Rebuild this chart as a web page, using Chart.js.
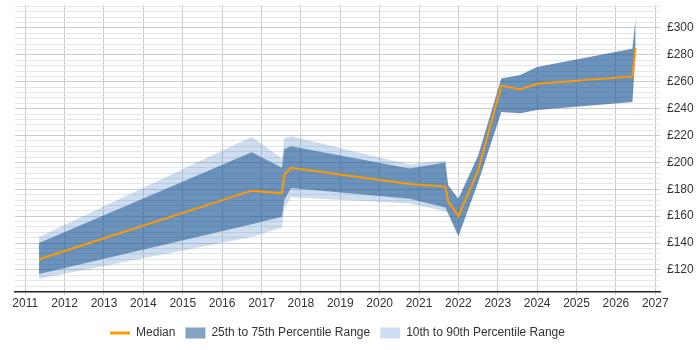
<!DOCTYPE html>
<html>
<head>
<meta charset="utf-8">
<script src="https://cdn.jsdelivr.net/npm/chart.js@4.4.1/dist/chart.umd.min.js"></script>
<style>
  html, body { margin: 0; padding: 0; background: #fff; }
  #wrap { width: 700px; height: 350px; }
</style>
</head>
<body>
<div id="wrap"><canvas id="rateChart" width="700" height="350"></canvas></div>
<script>
// dates as decimal years
const dates = [2011.35, 2016.75, 2017.52, 2017.58, 2017.75, 2020.76, 2021.67, 2021.74, 2022.0, 2022.5, 2023.09, 2023.57, 2024.0, 2026.42, 2026.5];
const median = [128, 179, 177, 191, 196, 184, 182, 171, 160, 194, 257, 254.5, 258.5, 264, 285];
const p75 = [140, 207.5, 196, 210, 212, 195.5, 200, 183, 173, 205, 262.5, 265, 271, 284.5, 307];
const p25 = [117, 154, 159.5, 172, 181, 173, 166.5, 162, 145, 185, 237.5, 236.5, 239, 245, 283];
const p90 = [144.5, 219, 203, 218, 219.5, 198.5, 201.5, 183, 173, 205, 262.5, 265, 271, 284.5, 307];
const p10 = [113.5, 144.5, 151.5, 166, 174, 169.5, 163.5, 162, 145, 185, 237.5, 236.5, 239, 245, 283];

const yearTicks = [2011, 2012, 2013, 2014, 2015, 2016, 2017, 2018, 2019, 2020, 2021, 2022, 2023, 2024, 2025, 2026, 2027];
const rateTicks = [104, 108, 112, 116, 120, 124, 128, 132, 136, 140, 144, 148, 152, 156, 160, 164, 168, 172, 176, 180, 184, 188, 192, 196, 200, 204, 208, 212, 216, 220, 224, 228, 232, 236, 240, 244, 248, 252, 256, 260, 264, 268, 272, 276, 280, 284, 288, 292, 296, 300, 304, 308, 312, 316];

const FONT = { family: "'Liberation Sans', Arial, sans-serif", size: 12 };
const DARK = "rgba(10, 71, 136, 0.5)";
const LIGHT = "rgba(60, 120, 190, 0.25)";
const ORANGE = "#ff9900";

function pontos(valores) {
  return dates.map((d, i) => ({ x: d, y: valores[i] }));
}

let myChart = null;

function renderChart() {
  const ctx = document.getElementById("rateChart").getContext("2d");

  myChart = new Chart(ctx, {
    type: "line",
    data: {
      datasets: [
        {
          label: "Median",
          data: pontos(median),
          borderColor: ORANGE,
          backgroundColor: ORANGE,
          borderWidth: 2,
          pointRadius: 0,
          pointStyle: "line",
          fill: false,
        },
        {
          label: "25th to 75th Percentile Range",
          data: pontos(p75),
          borderWidth: 0,
          borderColor: "rgba(0,0,0,0)",
          backgroundColor: DARK,
          pointRadius: 0,
          pointStyle: "rect",
          fill: "+1",
        },
        {
          label: "",
          data: pontos(p25),
          borderWidth: 0,
          borderColor: "rgba(0,0,0,0)",
          pointRadius: 0,
          fill: false,
        },
        {
          label: "10th to 90th Percentile Range",
          data: pontos(p90),
          borderWidth: 0,
          borderColor: "rgba(0,0,0,0)",
          backgroundColor: LIGHT,
          pointRadius: 0,
          pointStyle: "rect",
          fill: "+1",
        },
        {
          label: "",
          data: pontos(p10),
          borderWidth: 0,
          borderColor: "rgba(0,0,0,0)",
          pointRadius: 0,
          fill: false,
        },
      ],
    },
    options: {
      responsive: false,
      animation: false,
      layout: { padding: { left: 15, right: 0, top: 5, bottom: 1 } },
      scales: {
        x: {
          type: "linear",
          min: 2010.74,
          max: 2027.12,
          afterBuildTicks: (axis) => {
            axis.ticks = yearTicks.map((v) => ({ value: v }));
          },
          afterFit: (axis) => {
            axis.height = 25;
            axis.paddingLeft = 0;
            axis.paddingRight = 0;
          },
          ticks: {
            color: "#333",
            font: FONT,
            padding: 1,
            maxRotation: 0,
            autoSkip: false,
            callback: (v) => String(v),
          },
          grid: { color: "#cccccc", tickLength: 3 },
          border: { color: "#222", width: 1.5 },
        },
        y: {
          position: "right",
          min: 103.6,
          max: 317.1,
          afterBuildTicks: (axis) => {
            axis.ticks = rateTicks.map((v) => ({ value: v }));
          },
          afterFit: (axis) => {
            axis.width = 40;
            axis.paddingTop = 0;
            axis.paddingBottom = 0;
          },
          ticks: {
            color: "#333",
            font: FONT,
            padding: 7,
            autoSkip: false,
            callback: (v) => (v % 20 === 0 ? "£" + v : ""),
          },
          grid: {
            drawTicks: false,
            color: (c) => (c.tick && c.tick.value % 20 === 0 ? "#cccccc" : "#e6e6e6"),
          },
          border: { display: false },
        },
      },
      plugins: {
        tooltip: { enabled: false },
        legend: {
          position: "bottom",
          fullSize: false,
          labels: {
            color: "#333",
            font: FONT,
            usePointStyle: true,
            pointStyleWidth: 20,
            boxHeight: 11,
            padding: 10,
            filter: (item) => item.text !== "",
            generateLabels: (chart) => {
              const items = Chart.defaults.plugins.legend.labels.generateLabels(chart);
              items.forEach((it) => {
                if (it.text === "Median") it.lineWidth = 3;
              });
              return items;
            },
          },
        },
      },
    },
  });
}

renderChart();
</script>
</body>
</html>
